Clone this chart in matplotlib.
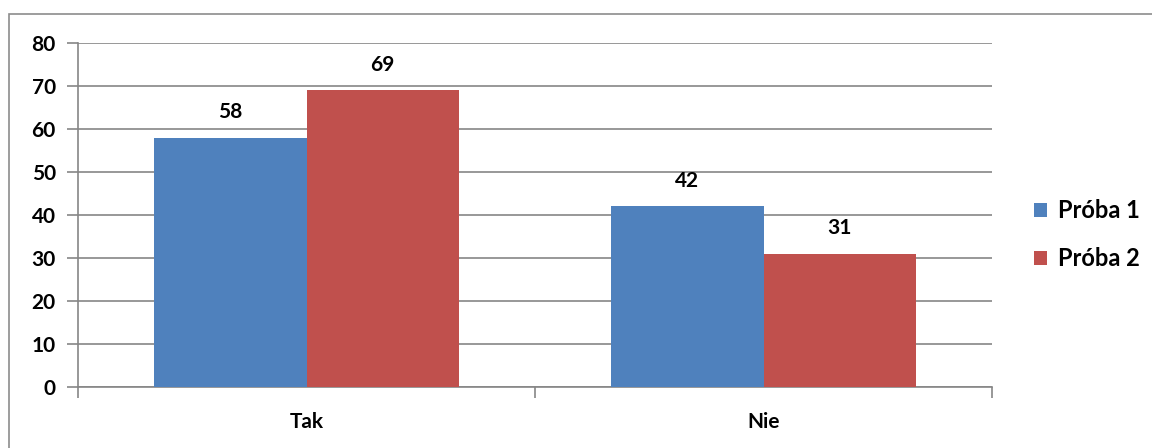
import matplotlib.pyplot as plt
import numpy as np
from matplotlib.patches import Rectangle

categories = ["Tak", "Nie"]
proba1 = [58, 42]
proba2 = [69, 31]
series_names = ["Próba 1", "Próba 2"]
yticks = [0, 10, 20, 30, 40, 50, 60, 70, 80]

plt.rcParams['font.family'] = ['Lato', 'DejaVu Sans']
plt.rcParams['font.weight'] = 'bold'

W, H = 1152, 448
fig = plt.figure(figsize=(W / 100, H / 100), dpi=100)
# chart frame
fig.patches.append(Rectangle((9 / W, -0.1), 1.2, (H - 14) / H + 0.1, transform=fig.transFigure,
                             fill=False, edgecolor="#8c8c8c", linewidth=1.2))

ax = fig.add_axes([78 / W, (H - 387) / H, (992 - 78) / W, (387 - 43) / H])

x = np.arange(len(categories))
width = 1 / 3
b1 = ax.bar(x - width / 2, proba1, width, color="#4F81BD", label=series_names[0], zorder=3)
b2 = ax.bar(x + width / 2, proba2, width, color="#C0504D", label=series_names[1], zorder=3)

for bars in (b1, b2):
    for r in bars:
        ax.annotate(str(int(r.get_height())), (r.get_x() + r.get_width() / 2, r.get_height()),
                    xytext=(0, 11), textcoords="offset points", ha="center", va="bottom",
                    fontsize=15, fontweight="bold")

ax.set_xlim(-0.5, 1.5)
ax.set_ylim(0, 80)
ax.set_yticks(yticks)
ax.yaxis.grid(True, color="#868686", linewidth=1.2, zorder=0)
ax.tick_params(axis="y", length=8, width=1.2, color="#868686", labelsize=15, pad=8)
ax.set_xticks(x)
ax.set_xticklabels(categories)
ax.set_xticks([-0.5, 0.5, 1.5], minor=True)
ax.tick_params(axis="x", which="major", length=0, labelsize=15, pad=18)
ax.tick_params(axis="x", which="minor", length=8, width=1.2, color="#868686")
for s in ["top", "right"]:
    ax.spines[s].set_visible(False)
for s in ["left", "bottom"]:
    ax.spines[s].set_color("#868686")
    ax.spines[s].set_linewidth(1.2)

ax.legend(loc="center left", bbox_to_anchor=(1.036, 0.443), frameon=False,
          prop={"size": 17, "weight": "bold"}, borderaxespad=0,
          handlelength=0.55, handleheight=0.55, labelspacing=1.05, handletextpad=0.45)

fig.savefig("out.png", dpi=100)
